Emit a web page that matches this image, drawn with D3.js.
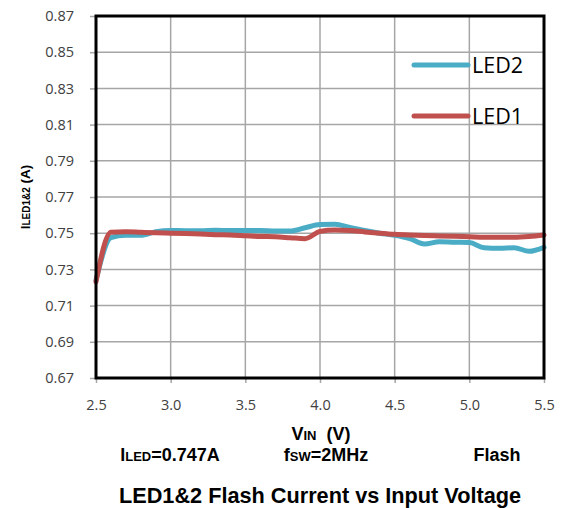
<!DOCTYPE html>
<html><head><meta charset="utf-8">
<script src="https://cdn.jsdelivr.net/npm/d3@7"></script>
<style>body{margin:0;background:#fff}svg{display:block}</style>
</head><body>
<svg id="c" width="563" height="508"></svg>
<script>
const vin = [2.5,2.6,2.7,2.8,2.9,3.0,3.1,3.2,3.3,3.4,3.5,3.6,3.7,3.8,3.9,4.0,4.1,4.2,4.3,4.4,4.5,4.6,4.7,4.8,4.9,5.0,5.1,5.2,5.3,5.4,5.5];
const led2 = [0.7240,0.7475,0.7488,0.7488,0.7508,0.7515,0.7514,0.7514,0.7516,0.7515,0.7515,0.7515,0.7512,0.7512,0.7530,0.7548,0.7550,0.7532,0.7515,0.7500,0.7488,0.7470,0.7440,0.7453,0.7450,0.7448,0.7420,0.7417,0.7420,0.7400,0.7422];
const led1 = [0.7232,0.7505,0.7508,0.7505,0.7502,0.7500,0.7498,0.7495,0.7492,0.7490,0.7486,0.7482,0.7480,0.7475,0.7470,0.7510,0.7518,0.7515,0.7507,0.7500,0.7494,0.7490,0.7487,0.7485,0.7483,0.7481,0.7478,0.7478,0.7478,0.7482,0.7490];
const xTicks = [2.5,3.0,3.5,4.0,4.5,5.0,5.5];
const yTicks = [0.67,0.69,0.71,0.73,0.75,0.77,0.79,0.81,0.83,0.85,0.87];
const seriesNames = ["LED2","LED1"];
const colors = ["#4bacc6","#c0504d"];

const svg = d3.select("#c");
const L=96,R=544,T=16,B=378;
const x = d3.scaleLinear().domain([2.5,5.5]).range([L,R]);
const y = d3.scaleLinear().domain([0.67,0.87]).range([B,T]);
const tickFont = "'Open Sans', 'Liberation Sans', sans-serif";

// grid
const g = svg.append("g");
g.selectAll(".gx").data(xTicks).enter().append("line")
  .attr("x1",d=>x(d)).attr("x2",d=>x(d)).attr("y1",T).attr("y2",B)
  .attr("stroke","#a6a6a6").attr("stroke-width",1.5);
g.selectAll(".gy").data(yTicks).enter().append("line")
  .attr("x1",L).attr("x2",R).attr("y1",d=>y(d)).attr("y2",d=>y(d))
  .attr("stroke","#a6a6a6").attr("stroke-width",1.5);

// axes
const yAxis = svg.append("g").attr("transform",`translate(${L},0)`)
  .call(d3.axisLeft(y).tickValues(yTicks).tickFormat(d3.format(".2f")).tickSize(6).tickPadding(16));
const xAxis = svg.append("g").attr("transform",`translate(0,${B})`)
  .call(d3.axisBottom(x).tickValues(xTicks).tickFormat(d3.format(".1f")).tickSize(5).tickPadding(17));
[yAxis,xAxis].forEach(a=>{
  a.select(".domain").remove();
  a.selectAll(".tick line").attr("stroke","#a6a6a6").attr("stroke-width",1.5);
  a.selectAll(".tick text").attr("fill","#404040").style("font-family",tickFont).style("font-size","14.5px");
});

// lines
const line = d3.line().x((d,i)=>x(vin[i])).y(d=>y(d)).curve(d3.curveMonotoneX);
[led2,led1].forEach((s,k)=>{
  svg.append("path").attr("d",line(s)).attr("fill","none")
    .attr("stroke",colors[k]).attr("stroke-width",5).attr("stroke-linejoin","round").attr("stroke-linecap","round");
});

// border
svg.append("rect").attr("x",L).attr("y",T).attr("width",R-L).attr("height",B-T)
  .attr("fill","none").attr("stroke","#000").attr("stroke-width",3);

// legend
const legY=[65,116];
seriesNames.forEach((n,k)=>{
  svg.append("line").attr("x1",414).attr("x2",468).attr("y1",legY[k]).attr("y2",legY[k])
    .attr("stroke",colors[k]).attr("stroke-width",5).attr("stroke-linecap","round");
  svg.append("text").attr("x",472).attr("y",legY[k]+8).text(n)
    .style("font-family","'Open Sans','Liberation Sans',sans-serif").style("font-size","21.5px").attr("fill","#000");
});

const bold = "'Liberation Sans', Arial, sans-serif";
// y title
const yt = svg.append("text").attr("transform","translate(30,197) rotate(-90)")
  .attr("text-anchor","middle").style("font-family",bold).style("font-weight","bold").style("font-size","13.5px");
yt.append("tspan").text("I");
yt.append("tspan").text("LED1&2").style("font-size","10px");
yt.append("tspan").text(" (A)");

// x title
const xt = svg.append("text").attr("x",321).attr("y",440).attr("text-anchor","middle")
  .attr("xml:space","preserve").style("white-space","pre")
  .style("font-family",bold).style("font-weight","bold").style("font-size","18px");
xt.append("tspan").text("V");
xt.append("tspan").text("IN").style("font-size","13px");
xt.append("tspan").text("  (V)");

function cond(cx, big, small, rest){
  const t = svg.append("text").attr("x",cx).attr("y",461).attr("text-anchor","middle")
    .style("font-family",bold).style("font-weight","bold").style("font-size","18px");
  t.append("tspan").text(big);
  t.append("tspan").text(small).style("font-size","13px");
  t.append("tspan").text(rest);
}
cond(170,"I","LED","=0.747A");
cond(326,"f","SW","=2MHz");
cond(497,"Flash","","");

svg.append("text").attr("x",320).attr("y",503).attr("text-anchor","middle")
  .style("font-family",bold).style("font-weight","bold").style("font-size","21.7px")
  .text("LED1&2 Flash Current vs Input Voltage");
</script>
</body></html>
